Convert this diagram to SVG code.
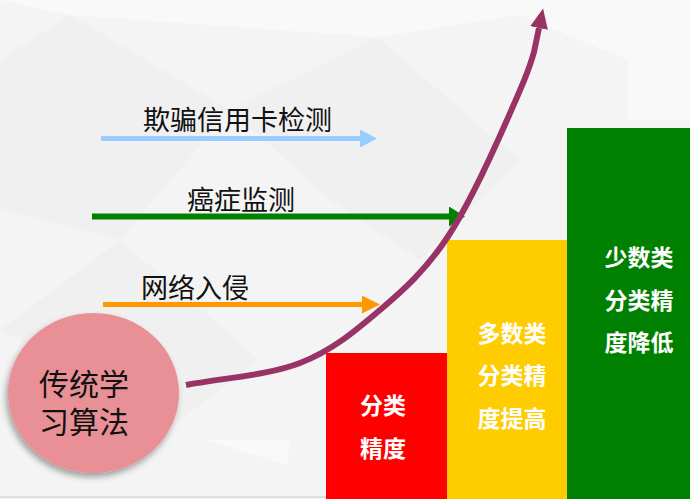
<svg xmlns="http://www.w3.org/2000/svg" width="690" height="499" viewBox="0 0 690 499">
<style>
.lbl{font-family:"Noto Sans CJK SC","Noto Sans",sans-serif;font-size:27px;fill:#111}
.ctext{font-family:"Noto Sans CJK SC","Noto Sans",sans-serif;font-size:30px;fill:#111}
.btext{font-family:"Noto Sans CJK SC","Noto Sans",sans-serif;font-size:23px;font-weight:700;fill:#fff;text-anchor:middle}
.bg1{fill:#f9f9f9}
.bg2{fill:#f0f0f1}
</style>
<defs>
<filter id="sh" x="-20%" y="-20%" width="140%" height="140%">
<feDropShadow dx="-2" dy="4" stdDeviation="3" flood-color="#000" flood-opacity="0.35"/>
</filter>
<marker id="hBlue" markerUnits="userSpaceOnUse" markerWidth="18" markerHeight="18" refX="0" refY="9" orient="auto"><path d="M0,0 L17,9 L0,18 z" fill="#99ccff"/></marker>
<marker id="hGreen" markerUnits="userSpaceOnUse" markerWidth="18" markerHeight="20" refX="0" refY="10" orient="auto"><path d="M0,0 L16,10 L0,20 z" fill="#008000"/></marker>
<marker id="hOrange" markerUnits="userSpaceOnUse" markerWidth="19" markerHeight="18" refX="0" refY="9" orient="auto"><path d="M0,0 L18,9 L0,18 z" fill="#ff9900"/></marker>
<marker id="hPurple" markerUnits="userSpaceOnUse" markerWidth="21" markerHeight="18" refX="0" refY="9" orient="auto"><path d="M0,0 L20,9 L0,18 z" fill="#993366"/></marker>
</defs>
<rect x="0" y="0" width="690" height="499" fill="#f4f4f5"/>
<polygon class="bg1" points="0,0 690,0 690,90 628,60 520,15 377,37 70,15"/>
<polygon class="bg1" points="628,0 690,0 690,120 628,120"/>
<polygon class="bg2" points="0,60 70,15 230,110 120,240 0,210"/>
<polygon class="bg2" points="230,110 377,37 520,160 420,260 330,200"/>
<polygon class="bg1" points="207,440 290,440 287,465"/>
<polygon class="bg2" points="0,330 120,240 260,360 180,420"/>
<line x1="0" y1="497" x2="326" y2="497" stroke="#c8c8c8" stroke-width="1"/>
<g id="bars">
<g id="bar-red"><rect x="326" y="353" width="121" height="146" fill="#ff0000"/>
<text class="btext" x="383" y="414">分类</text><text class="btext" x="383" y="457">精度</text></g>
<g id="bar-yellow"><rect x="447" y="240" width="120" height="259" fill="#ffcc00"/>
<text class="btext" x="512" y="342">多数类</text><text class="btext" x="512" y="384">分类精</text><text class="btext" x="512" y="427">度提高</text></g>
<g id="bar-green"><rect x="567" y="128" width="123" height="371" fill="#008000"/>
<text class="btext" x="639" y="266">少数类</text><text class="btext" x="639" y="309">分类精</text><text class="btext" x="639" y="351">度降低</text></g>
</g>
<g id="connectors">
<line x1="101" y1="138.5" x2="360" y2="138.5" stroke="#99ccff" stroke-width="5" marker-end="url(#hBlue)"/>
<line x1="92" y1="216.5" x2="449" y2="216.5" stroke="#008000" stroke-width="6" marker-end="url(#hGreen)"/>
<line x1="103" y1="304.5" x2="362" y2="304.5" stroke="#ff9900" stroke-width="5" marker-end="url(#hOrange)"/>
<path d="M186,385 C224,377.7 267.7,375.5 300,363 C332.3,350.5 355.5,330.8 380,310 C404.5,289.2 425.8,269.7 447,238 C468.2,206.3 491.5,155.3 507,120 C522.5,84.7 529,70 534,52 L539,28" fill="none" stroke="#993366" stroke-width="6" marker-end="url(#hPurple)"/>
</g>
<g id="label-fraud"><text class="lbl" x="143" y="130">欺骗信用卡检测</text></g>
<g id="label-cancer"><text class="lbl" x="187" y="210">癌症监测</text></g>
<g id="label-intrusion"><text class="lbl" x="141" y="298">网络入侵</text></g>
<g id="node-traditional">
<ellipse cx="93.5" cy="393" rx="85.5" ry="80" fill="#e89096" filter="url(#sh)"/>
<text class="ctext" x="39" y="395">传统学</text>
<text class="ctext" x="39" y="433">习算法</text>
</g>
</svg>
